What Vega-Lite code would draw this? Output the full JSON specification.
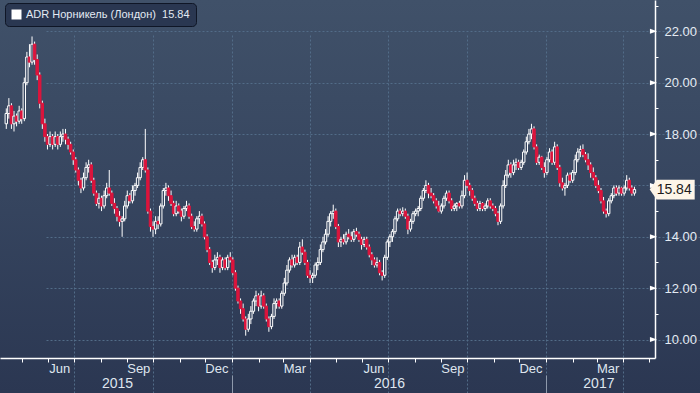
{
"$schema":"https://vega.github.io/schema/vega-lite/v6.json",
"width":700,"height":393,"autosize":"none","padding":0,
"background":"#35445e",
"config":{"view":{"stroke":null,"fill":{"gradient":"linear","x1":0,"y1":0,"x2":0,"y2":1,"stops":[{"offset":0,"color":"#405169"},{"offset":0.5,"color":"#36455f"},{"offset":1,"color":"#2b3752"}]}},"font":"Liberation Sans"},
"data":{"values":[
{"d":"2015-04-13","o":18.4,"h":19.0,"l":18.2,"c":18.8},
{"d":"2015-04-16","o":18.8,"h":19.4,"l":18.6,"c":19.1},
{"d":"2015-04-19","o":19.1,"h":19.2,"l":18.2,"c":18.4},
{"d":"2015-04-22","o":18.4,"h":18.9,"l":18.1,"c":18.7},
{"d":"2015-04-25","o":18.7,"h":18.8,"l":18.3,"c":18.5},
{"d":"2015-04-28","o":18.5,"h":19.1,"l":18.4,"c":18.9},
{"d":"2015-05-01","o":18.9,"h":19.0,"l":18.4,"c":18.6},
{"d":"2015-05-04","o":18.6,"h":20.2,"l":18.5,"c":20.0},
{"d":"2015-05-07","o":20.0,"h":21.2,"l":19.9,"c":21.0},
{"d":"2015-05-10","o":21.0,"h":21.5,"l":20.6,"c":20.8},
{"d":"2015-05-13","o":20.8,"h":21.8,"l":20.7,"c":21.5},
{"d":"2015-05-16","o":21.5,"h":21.6,"l":20.7,"c":20.9},
{"d":"2015-05-19","o":20.9,"h":21.1,"l":20.1,"c":20.3},
{"d":"2015-05-22","o":20.3,"h":20.4,"l":19.0,"c":19.2},
{"d":"2015-05-25","o":19.2,"h":19.3,"l":18.2,"c":18.4},
{"d":"2015-05-28","o":18.4,"h":18.6,"l":17.7,"c":17.9},
{"d":"2015-05-31","o":17.9,"h":18.0,"l":17.4,"c":17.6},
{"d":"2015-06-03","o":17.6,"h":18.1,"l":17.5,"c":17.9},
{"d":"2015-06-06","o":17.9,"h":18.0,"l":17.4,"c":17.6},
{"d":"2015-06-09","o":17.6,"h":18.1,"l":17.5,"c":17.9},
{"d":"2015-06-12","o":17.9,"h":18.0,"l":17.4,"c":17.6},
{"d":"2015-06-15","o":17.6,"h":18.1,"l":17.5,"c":17.9},
{"d":"2015-06-18","o":17.9,"h":18.2,"l":17.7,"c":18.0},
{"d":"2015-06-21","o":18.0,"h":18.2,"l":17.6,"c":17.8},
{"d":"2015-06-24","o":17.8,"h":17.9,"l":17.4,"c":17.6},
{"d":"2015-06-27","o":17.6,"h":17.7,"l":17.2,"c":17.3},
{"d":"2015-06-30","o":17.3,"h":17.4,"l":16.8,"c":17.0},
{"d":"2015-07-03","o":17.0,"h":17.1,"l":16.5,"c":16.6},
{"d":"2015-07-06","o":16.6,"h":16.7,"l":16.0,"c":16.2},
{"d":"2015-07-09","o":16.2,"h":16.3,"l":15.7,"c":15.9},
{"d":"2015-07-12","o":15.9,"h":16.5,"l":15.8,"c":16.3},
{"d":"2015-07-15","o":16.3,"h":16.9,"l":16.2,"c":16.7},
{"d":"2015-07-18","o":16.7,"h":17.0,"l":16.5,"c":16.8},
{"d":"2015-07-21","o":16.8,"h":16.9,"l":16.1,"c":16.2},
{"d":"2015-07-24","o":16.2,"h":16.3,"l":15.6,"c":15.7},
{"d":"2015-07-27","o":15.7,"h":15.8,"l":15.2,"c":15.3},
{"d":"2015-07-30","o":15.3,"h":15.7,"l":15.1,"c":15.5},
{"d":"2015-08-02","o":15.5,"h":15.6,"l":15.0,"c":15.2},
{"d":"2015-08-05","o":15.2,"h":15.8,"l":15.1,"c":15.6},
{"d":"2015-08-08","o":15.6,"h":16.1,"l":15.5,"c":15.9},
{"d":"2015-08-11","o":15.9,"h":16.6,"l":15.6,"c":15.7},
{"d":"2015-08-14","o":15.7,"h":15.8,"l":15.2,"c":15.3},
{"d":"2015-08-17","o":15.3,"h":15.5,"l":14.9,"c":15.1},
{"d":"2015-08-20","o":15.1,"h":15.2,"l":14.6,"c":14.8},
{"d":"2015-08-23","o":14.8,"h":15.0,"l":14.4,"c":14.6},
{"d":"2015-08-26","o":14.6,"h":14.8,"l":14.0,"c":14.7},
{"d":"2015-08-29","o":14.7,"h":15.4,"l":14.6,"c":15.2},
{"d":"2015-09-01","o":15.2,"h":15.8,"l":15.1,"c":15.6},
{"d":"2015-09-04","o":15.6,"h":15.7,"l":15.3,"c":15.4},
{"d":"2015-09-07","o":15.4,"h":16.0,"l":15.3,"c":15.8},
{"d":"2015-09-10","o":15.8,"h":16.1,"l":15.6,"c":16.0},
{"d":"2015-09-13","o":16.0,"h":16.5,"l":15.9,"c":16.3},
{"d":"2015-09-16","o":16.3,"h":16.9,"l":16.2,"c":16.7},
{"d":"2015-09-19","o":16.7,"h":17.1,"l":16.6,"c":17.0},
{"d":"2015-09-22","o":17.0,"h":18.2,"l":16.5,"c":16.6},
{"d":"2015-09-25","o":16.6,"h":16.7,"l":14.9,"c":15.0},
{"d":"2015-09-28","o":15.0,"h":15.1,"l":14.2,"c":14.4},
{"d":"2015-10-01","o":14.4,"h":14.6,"l":14.0,"c":14.3},
{"d":"2015-10-04","o":14.3,"h":14.8,"l":14.1,"c":14.6},
{"d":"2015-10-07","o":14.6,"h":14.8,"l":14.3,"c":14.5},
{"d":"2015-10-10","o":14.5,"h":15.3,"l":14.4,"c":15.2},
{"d":"2015-10-13","o":15.2,"h":15.9,"l":15.1,"c":15.8},
{"d":"2015-10-16","o":15.8,"h":16.1,"l":15.6,"c":15.9},
{"d":"2015-10-19","o":15.9,"h":16.0,"l":15.4,"c":15.6},
{"d":"2015-10-22","o":15.6,"h":15.8,"l":15.2,"c":15.3},
{"d":"2015-10-25","o":15.3,"h":15.4,"l":14.8,"c":14.9},
{"d":"2015-10-28","o":14.9,"h":15.4,"l":14.8,"c":15.2},
{"d":"2015-10-31","o":15.2,"h":15.3,"l":14.9,"c":15.0},
{"d":"2015-11-03","o":15.0,"h":15.1,"l":14.6,"c":14.8},
{"d":"2015-11-06","o":14.8,"h":15.2,"l":14.7,"c":15.1},
{"d":"2015-11-09","o":15.1,"h":15.4,"l":15.0,"c":15.2},
{"d":"2015-11-12","o":15.2,"h":15.3,"l":14.7,"c":14.8},
{"d":"2015-11-15","o":14.8,"h":14.9,"l":14.3,"c":14.4},
{"d":"2015-11-18","o":14.4,"h":14.6,"l":14.2,"c":14.3},
{"d":"2015-11-21","o":14.3,"h":14.8,"l":14.2,"c":14.7},
{"d":"2015-11-24","o":14.7,"h":15.0,"l":14.5,"c":14.8},
{"d":"2015-11-27","o":14.8,"h":14.9,"l":14.4,"c":14.5},
{"d":"2015-11-30","o":14.5,"h":14.6,"l":13.9,"c":14.0},
{"d":"2015-12-03","o":14.0,"h":14.1,"l":13.4,"c":13.5},
{"d":"2015-12-06","o":13.5,"h":13.6,"l":12.9,"c":13.0},
{"d":"2015-12-09","o":13.0,"h":13.1,"l":12.6,"c":12.8},
{"d":"2015-12-12","o":12.8,"h":13.3,"l":12.7,"c":13.1},
{"d":"2015-12-15","o":13.1,"h":13.4,"l":12.9,"c":13.2},
{"d":"2015-12-18","o":13.2,"h":13.3,"l":12.6,"c":12.8},
{"d":"2015-12-21","o":12.8,"h":13.2,"l":12.7,"c":13.1},
{"d":"2015-12-24","o":13.1,"h":13.2,"l":12.7,"c":12.8},
{"d":"2015-12-27","o":12.8,"h":13.3,"l":12.7,"c":13.2},
{"d":"2015-12-30","o":13.2,"h":13.4,"l":13.0,"c":13.1},
{"d":"2016-01-02","o":13.1,"h":13.2,"l":12.5,"c":12.6},
{"d":"2016-01-05","o":12.6,"h":12.7,"l":11.9,"c":12.0},
{"d":"2016-01-08","o":12.0,"h":12.1,"l":11.4,"c":11.5},
{"d":"2016-01-11","o":11.5,"h":11.6,"l":11.0,"c":11.2},
{"d":"2016-01-14","o":11.2,"h":11.4,"l":10.7,"c":10.8},
{"d":"2016-01-17","o":10.8,"h":10.9,"l":10.15,"c":10.4},
{"d":"2016-01-20","o":10.4,"h":11.0,"l":10.3,"c":10.8},
{"d":"2016-01-23","o":10.8,"h":11.3,"l":10.6,"c":11.1},
{"d":"2016-01-26","o":11.1,"h":11.6,"l":11.0,"c":11.5},
{"d":"2016-01-29","o":11.5,"h":11.9,"l":11.3,"c":11.7},
{"d":"2016-02-01","o":11.7,"h":11.8,"l":11.1,"c":11.3},
{"d":"2016-02-04","o":11.3,"h":11.9,"l":11.2,"c":11.7},
{"d":"2016-02-07","o":11.7,"h":11.8,"l":11.2,"c":11.3},
{"d":"2016-02-10","o":11.3,"h":11.4,"l":10.7,"c":10.8},
{"d":"2016-02-13","o":10.8,"h":10.9,"l":10.3,"c":10.5},
{"d":"2016-02-16","o":10.5,"h":11.0,"l":10.4,"c":10.9},
{"d":"2016-02-19","o":10.9,"h":11.6,"l":10.8,"c":11.4},
{"d":"2016-02-22","o":11.4,"h":11.6,"l":11.2,"c":11.5},
{"d":"2016-02-25","o":11.5,"h":11.6,"l":11.2,"c":11.3},
{"d":"2016-02-28","o":11.3,"h":11.9,"l":11.2,"c":11.8},
{"d":"2016-03-02","o":11.8,"h":12.4,"l":11.7,"c":12.2},
{"d":"2016-03-05","o":12.2,"h":12.9,"l":12.1,"c":12.7},
{"d":"2016-03-08","o":12.7,"h":13.2,"l":12.6,"c":13.1},
{"d":"2016-03-11","o":13.1,"h":13.3,"l":12.8,"c":12.9},
{"d":"2016-03-14","o":12.9,"h":13.3,"l":12.8,"c":13.2},
{"d":"2016-03-17","o":13.2,"h":13.3,"l":12.9,"c":13.0},
{"d":"2016-03-20","o":13.0,"h":13.8,"l":12.9,"c":13.6},
{"d":"2016-03-23","o":13.6,"h":13.9,"l":13.3,"c":13.4},
{"d":"2016-03-26","o":13.4,"h":13.5,"l":12.9,"c":13.0},
{"d":"2016-03-29","o":13.0,"h":13.1,"l":12.4,"c":12.5},
{"d":"2016-04-01","o":12.5,"h":12.7,"l":12.2,"c":12.4},
{"d":"2016-04-04","o":12.4,"h":12.6,"l":12.2,"c":12.5},
{"d":"2016-04-07","o":12.5,"h":13.0,"l":12.4,"c":12.9},
{"d":"2016-04-10","o":12.9,"h":13.2,"l":12.7,"c":13.0},
{"d":"2016-04-13","o":13.0,"h":13.7,"l":12.9,"c":13.5},
{"d":"2016-04-16","o":13.5,"h":14.0,"l":13.4,"c":13.8},
{"d":"2016-04-19","o":13.8,"h":14.3,"l":13.7,"c":14.1},
{"d":"2016-04-22","o":14.1,"h":14.8,"l":14.0,"c":14.6},
{"d":"2016-04-25","o":14.6,"h":15.0,"l":14.4,"c":14.9},
{"d":"2016-04-28","o":14.9,"h":15.25,"l":14.7,"c":15.0},
{"d":"2016-05-01","o":15.0,"h":15.1,"l":14.3,"c":14.4},
{"d":"2016-05-04","o":14.4,"h":14.5,"l":13.6,"c":13.8},
{"d":"2016-05-07","o":13.8,"h":14.0,"l":13.6,"c":13.9},
{"d":"2016-05-10","o":13.9,"h":14.1,"l":13.7,"c":13.8},
{"d":"2016-05-13","o":13.8,"h":14.2,"l":13.7,"c":14.1},
{"d":"2016-05-16","o":14.1,"h":14.3,"l":13.9,"c":14.0},
{"d":"2016-05-19","o":14.0,"h":14.2,"l":13.8,"c":13.9},
{"d":"2016-05-22","o":13.9,"h":14.3,"l":13.8,"c":14.2},
{"d":"2016-05-25","o":14.2,"h":14.35,"l":14.0,"c":14.1},
{"d":"2016-05-28","o":14.1,"h":14.2,"l":13.8,"c":13.9},
{"d":"2016-05-31","o":13.9,"h":14.0,"l":13.5,"c":13.7},
{"d":"2016-06-03","o":13.7,"h":14.0,"l":13.6,"c":13.9},
{"d":"2016-06-06","o":13.9,"h":14.0,"l":13.5,"c":13.6},
{"d":"2016-06-09","o":13.6,"h":13.7,"l":13.2,"c":13.3},
{"d":"2016-06-12","o":13.3,"h":13.4,"l":12.9,"c":13.1},
{"d":"2016-06-15","o":13.1,"h":13.2,"l":12.8,"c":12.9},
{"d":"2016-06-18","o":12.9,"h":13.2,"l":12.8,"c":13.0},
{"d":"2016-06-21","o":13.0,"h":13.1,"l":12.5,"c":12.6},
{"d":"2016-06-24","o":12.6,"h":12.7,"l":12.3,"c":12.5},
{"d":"2016-06-27","o":12.5,"h":13.3,"l":12.4,"c":13.2},
{"d":"2016-06-30","o":13.2,"h":13.9,"l":13.1,"c":13.8},
{"d":"2016-07-03","o":13.8,"h":14.1,"l":13.6,"c":14.0},
{"d":"2016-07-06","o":14.0,"h":14.3,"l":13.8,"c":14.2},
{"d":"2016-07-09","o":14.2,"h":14.8,"l":14.1,"c":14.7},
{"d":"2016-07-12","o":14.7,"h":15.1,"l":14.6,"c":15.0},
{"d":"2016-07-15","o":15.0,"h":15.1,"l":14.8,"c":14.9},
{"d":"2016-07-18","o":14.9,"h":15.15,"l":14.8,"c":15.0},
{"d":"2016-07-21","o":15.0,"h":15.1,"l":14.7,"c":14.8},
{"d":"2016-07-24","o":14.8,"h":14.9,"l":14.1,"c":14.3},
{"d":"2016-07-27","o":14.3,"h":14.7,"l":14.2,"c":14.6},
{"d":"2016-07-30","o":14.6,"h":15.0,"l":14.5,"c":14.9},
{"d":"2016-08-02","o":14.9,"h":15.1,"l":14.8,"c":15.0},
{"d":"2016-08-05","o":15.0,"h":15.2,"l":14.8,"c":15.1},
{"d":"2016-08-08","o":15.1,"h":15.6,"l":15.0,"c":15.5},
{"d":"2016-08-11","o":15.5,"h":15.9,"l":15.4,"c":15.8},
{"d":"2016-08-14","o":15.8,"h":16.2,"l":15.7,"c":16.0},
{"d":"2016-08-17","o":16.0,"h":16.1,"l":15.5,"c":15.7},
{"d":"2016-08-20","o":15.7,"h":15.9,"l":15.5,"c":15.6},
{"d":"2016-08-23","o":15.6,"h":15.7,"l":15.3,"c":15.4},
{"d":"2016-08-26","o":15.4,"h":15.5,"l":15.1,"c":15.2},
{"d":"2016-08-29","o":15.2,"h":15.4,"l":14.95,"c":15.0},
{"d":"2016-09-01","o":15.0,"h":15.3,"l":14.9,"c":15.2},
{"d":"2016-09-04","o":15.2,"h":15.6,"l":15.1,"c":15.5},
{"d":"2016-09-07","o":15.5,"h":15.8,"l":15.4,"c":15.7},
{"d":"2016-09-10","o":15.7,"h":15.8,"l":15.3,"c":15.4},
{"d":"2016-09-13","o":15.4,"h":15.5,"l":15.0,"c":15.1},
{"d":"2016-09-16","o":15.1,"h":15.3,"l":15.0,"c":15.2},
{"d":"2016-09-19","o":15.2,"h":15.35,"l":15.0,"c":15.3},
{"d":"2016-09-22","o":15.3,"h":15.4,"l":15.1,"c":15.2},
{"d":"2016-09-25","o":15.2,"h":15.8,"l":15.1,"c":15.6},
{"d":"2016-09-28","o":15.6,"h":16.4,"l":15.5,"c":16.2},
{"d":"2016-10-01","o":16.2,"h":16.5,"l":15.9,"c":16.0},
{"d":"2016-10-04","o":16.0,"h":16.1,"l":15.6,"c":15.8},
{"d":"2016-10-07","o":15.8,"h":15.9,"l":15.4,"c":15.5},
{"d":"2016-10-10","o":15.5,"h":15.6,"l":15.2,"c":15.3},
{"d":"2016-10-13","o":15.3,"h":15.4,"l":15.0,"c":15.1},
{"d":"2016-10-16","o":15.1,"h":15.4,"l":15.0,"c":15.3},
{"d":"2016-10-19","o":15.3,"h":15.35,"l":15.0,"c":15.1},
{"d":"2016-10-22","o":15.1,"h":15.3,"l":15.0,"c":15.2},
{"d":"2016-10-25","o":15.2,"h":15.5,"l":15.1,"c":15.4},
{"d":"2016-10-28","o":15.4,"h":15.5,"l":15.1,"c":15.2},
{"d":"2016-10-31","o":15.2,"h":15.3,"l":15.0,"c":15.1},
{"d":"2016-11-03","o":15.1,"h":15.2,"l":14.8,"c":14.9},
{"d":"2016-11-06","o":14.9,"h":15.0,"l":14.45,"c":14.6},
{"d":"2016-11-09","o":14.6,"h":15.3,"l":14.5,"c":15.2},
{"d":"2016-11-12","o":15.2,"h":16.2,"l":15.1,"c":16.0},
{"d":"2016-11-15","o":16.0,"h":16.6,"l":15.9,"c":16.4},
{"d":"2016-11-18","o":16.4,"h":17.0,"l":16.3,"c":16.8},
{"d":"2016-11-21","o":16.8,"h":16.9,"l":16.3,"c":16.5},
{"d":"2016-11-24","o":16.5,"h":17.0,"l":16.4,"c":16.8},
{"d":"2016-11-27","o":16.8,"h":17.05,"l":16.6,"c":16.9},
{"d":"2016-11-30","o":16.9,"h":17.0,"l":16.6,"c":16.7},
{"d":"2016-12-03","o":16.7,"h":17.0,"l":16.6,"c":16.9},
{"d":"2016-12-06","o":16.9,"h":17.4,"l":16.8,"c":17.3},
{"d":"2016-12-09","o":17.3,"h":17.9,"l":17.2,"c":17.7},
{"d":"2016-12-12","o":17.7,"h":18.2,"l":17.6,"c":18.0},
{"d":"2016-12-15","o":18.0,"h":18.4,"l":17.8,"c":18.2},
{"d":"2016-12-18","o":18.2,"h":18.3,"l":17.4,"c":17.5},
{"d":"2016-12-21","o":17.5,"h":17.6,"l":16.8,"c":16.9},
{"d":"2016-12-24","o":16.9,"h":17.2,"l":16.8,"c":17.1},
{"d":"2016-12-27","o":17.1,"h":17.15,"l":16.6,"c":16.7},
{"d":"2016-12-30","o":16.7,"h":16.9,"l":16.3,"c":16.5},
{"d":"2017-01-02","o":16.5,"h":17.1,"l":16.4,"c":17.0},
{"d":"2017-01-05","o":17.0,"h":17.45,"l":16.9,"c":17.3},
{"d":"2017-01-08","o":17.3,"h":17.4,"l":16.8,"c":16.9},
{"d":"2017-01-11","o":16.9,"h":17.7,"l":16.8,"c":17.5},
{"d":"2017-01-14","o":17.5,"h":17.6,"l":16.6,"c":16.7},
{"d":"2017-01-17","o":16.7,"h":16.8,"l":15.95,"c":16.1},
{"d":"2017-01-20","o":16.1,"h":16.3,"l":15.8,"c":15.9},
{"d":"2017-01-23","o":15.9,"h":16.1,"l":15.6,"c":16.0},
{"d":"2017-01-26","o":16.0,"h":16.5,"l":15.9,"c":16.4},
{"d":"2017-01-29","o":16.4,"h":16.5,"l":16.1,"c":16.2},
{"d":"2017-02-01","o":16.2,"h":16.6,"l":16.1,"c":16.5},
{"d":"2017-02-04","o":16.5,"h":17.2,"l":16.4,"c":17.0},
{"d":"2017-02-07","o":17.0,"h":17.45,"l":16.9,"c":17.3},
{"d":"2017-02-10","o":17.3,"h":17.55,"l":17.1,"c":17.4},
{"d":"2017-02-13","o":17.4,"h":17.6,"l":17.1,"c":17.2},
{"d":"2017-02-16","o":17.2,"h":17.3,"l":16.9,"c":17.0},
{"d":"2017-02-19","o":17.0,"h":17.25,"l":16.6,"c":16.8},
{"d":"2017-02-22","o":16.8,"h":16.9,"l":16.3,"c":16.5},
{"d":"2017-02-25","o":16.5,"h":16.7,"l":16.2,"c":16.3},
{"d":"2017-02-28","o":16.3,"h":16.4,"l":15.9,"c":16.0},
{"d":"2017-03-03","o":16.0,"h":16.2,"l":15.7,"c":15.8},
{"d":"2017-03-06","o":15.8,"h":15.9,"l":15.3,"c":15.4},
{"d":"2017-03-09","o":15.4,"h":15.55,"l":14.9,"c":15.0},
{"d":"2017-03-12","o":15.0,"h":15.1,"l":14.75,"c":14.9},
{"d":"2017-03-15","o":14.9,"h":15.5,"l":14.8,"c":15.4},
{"d":"2017-03-18","o":15.4,"h":15.7,"l":15.3,"c":15.6},
{"d":"2017-03-21","o":15.6,"h":16.0,"l":15.5,"c":15.9},
{"d":"2017-03-24","o":15.9,"h":16.0,"l":15.6,"c":15.7},
{"d":"2017-03-27","o":15.7,"h":16.0,"l":15.6,"c":15.9},
{"d":"2017-03-30","o":15.9,"h":15.95,"l":15.6,"c":15.7},
{"d":"2017-04-02","o":15.7,"h":16.0,"l":15.6,"c":15.9},
{"d":"2017-04-05","o":15.9,"h":16.4,"l":15.8,"c":16.2},
{"d":"2017-04-08","o":16.2,"h":16.3,"l":15.8,"c":15.9},
{"d":"2017-04-11","o":15.9,"h":16.0,"l":15.6,"c":15.7},
{"d":"2017-04-14","o":15.7,"h":15.95,"l":15.6,"c":15.84}
]},
"resolve":{"axis":{"x":"independent","y":"independent"}},
"layer":[
{"mark":{"type":"rule","color":"#ffffff","strokeWidth":1},
 "encoding":{
  "x":{"field":"d","type":"temporal",
   "scale":{"domain":[{"year":2015,"month":4,"date":11,"hours":12},{"year":2017,"month":5,"date":2,"hours":3}],"range":[0,655]},
   "axis":{"orient":"bottom","offset":-35,"tickCount":{"interval":"month","step":1},"domainColor":"#ffffff","domainWidth":1.5,"tickColor":"#ffffff","tickSize":4,"tickWidth":1,
    "labelExpr":"month(datum.value) % 3 == 2 ? timeFormat(datum.value, '%b') : ''","labelOffset":11,"labelPadding":0,"labelFont":"Liberation Sans","labelFontSize":13,"labelColor":"#dfe6ef","labelOverlap":false,"labelFlush":false,"labelBound":false,
    "grid":true,"gridColor":"#526c88","gridDash":[2,2],"gridOpacity":{"condition":{"test":"month(datum.value) % 3 == 0","value":1},"value":0},"title":null,"zindex":0}},
  "y":{"field":"l","type":"quantitative",
   "scale":{"domain":[9.28,23.22],"range":[358,0],"nice":false,"zero":false},
   "axis":{"orient":"right","offset":-45,"values":[10,11,12,13,14,15,16,17,18,19,20,21,22,23],"domainColor":"#ffffff","domainWidth":1.5,"tickColor":"#ffffff","tickSize":3,"tickWidth":1,
    "tickOpacity":{"condition":{"test":"datum.value % 2 == 1","value":1},"value":0},
    "labelExpr":"datum.value % 2 == 0 && datum.value != 16 ? format(datum.value, '.2f') : ''","labelPadding":6,"labelFont":"Liberation Sans","labelFontSize":13,"labelColor":"#e4ebf3","labelOverlap":false,"labelFlush":false,"labelBound":false,
    "grid":true,"gridColor":"#526c88","gridDash":[2,2],"gridOpacity":{"condition":{"test":"datum.value % 2 == 0","value":1},"value":0},"title":null,"zindex":0}},
  "y2":{"field":"h"}}},
{"mark":{"type":"bar","width":2.4,"strokeWidth":1},
 "encoding":{
  "x":{"field":"d","type":"temporal",
   "axis":{"orient":"bottom","offset":-18,"values":[{"year":2016,"month":1,"date":1},{"year":2017,"month":1,"date":1}],"domain":false,"labels":false,"grid":false,"tickColor":"#8e99ab","tickSize":18,"tickWidth":1,"title":null}},
  "y":{"field":"o","type":"quantitative","axis":null},
  "y2":{"field":"c"},
  "fill":{"condition":{"test":"datum.c >= datum.o","value":"#36455f"},"value":"#dc143c"},
  "stroke":{"condition":{"test":"datum.c >= datum.o","value":"#ffffff"},"value":"#dc143c"}}},
{"data":{"values":[{"v":10},{"v":12},{"v":14},{"v":16},{"v":18},{"v":20},{"v":22}]},
 "mark":{"type":"point","filled":true,"opacity":1,"shape":"M -1 -0.7 L 1 0 L -1 0.7 Z","size":50},
 "encoding":{
  "x":{"datum":{"year":2017,"month":5,"date":6,"hours":5},"type":"temporal",
   "axis":{"orient":"bottom","offset":-18,"values":[{"year":2015,"month":8,"date":20},{"year":2016,"month":7,"date":2},{"year":2017,"month":3,"date":3}],"domain":false,"ticks":false,"grid":false,"labelExpr":"timeFormat(datum.value, '%Y')","labelFont":"Liberation Sans","labelFontSize":14,"labelColor":"#dfe6ef","labelPadding":1,"labelOverlap":false,"labelFlush":false,"labelBound":false,"title":null}},
  "y":{"field":"v","type":"quantitative","axis":null},
  "color":{"datum":"ADR Норникель (Лондон)\u00a0\u00a015.84","type":"nominal","scale":{"range":["#ffffff"]},
   "legend":{"orient":"none","legendX":5,"legendY":3,"title":null,"fillColor":"#2a3751","strokeColor":"#0f1626","cornerRadius":4,"padding":6,"symbolType":"square","symbolSize":100,"symbolFillColor":"#ffffff","symbolStrokeWidth":0,"labelColor":"#e3eaf3","labelFontSize":11,"labelFont":"Liberation Sans","labelLimit":0}}}},
{"data":{"values":[{"p":15.84}]},
 "mark":{"type":"point","filled":true,"opacity":1,"color":"#fdf5e8","shape":"M -1 0 L -0.69 -0.44 L 1 -0.44 L 1 0.44 L -0.69 0.44 Z","size":2025},
 "encoding":{
  "x":{"datum":{"year":2017,"month":5,"date":28},"type":"temporal","axis":null},
  "y":{"field":"p","type":"quantitative","axis":null}}},
{"data":{"values":[{"p":15.84}]},
 "mark":{"type":"text","align":"center","baseline":"middle","font":"Liberation Sans","fontSize":14,"color":"#1b1b1b"},
 "encoding":{
  "x":{"datum":{"year":2017,"month":5,"date":30,"hours":7},"type":"temporal","axis":null},
  "y":{"field":"p","type":"quantitative","axis":null},
  "text":{"field":"p","type":"quantitative","format":".2f"}}}
]
}
